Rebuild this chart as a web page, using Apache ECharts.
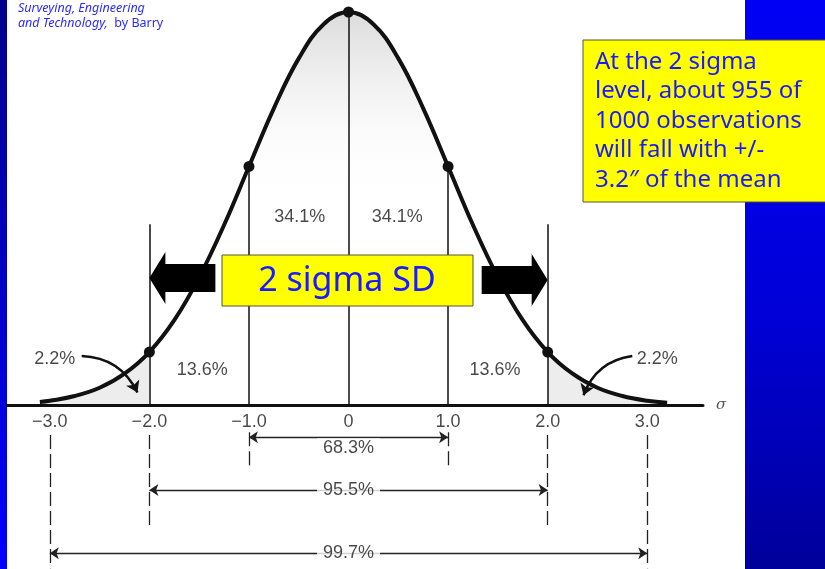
<!DOCTYPE html>
<html>
<head>
<meta charset="utf-8">
<script src="https://cdn.jsdelivr.net/npm/echarts@6/dist/echarts.min.js"></script>
<style>
  html, body { margin: 0; padding: 0; background: #fff; }
  #chart { width: 825px; height: 569px; }
</style>
</head>
<body>
<div id="chart"></div>
<script>
// curve: position in sigma -> relative height (peak = 1)
var curveX = [-3.1, -3.0, -2.75, -2.5, -2.25, -2.0, -1.75, -1.5, -1.25, -1.0, -0.75, -0.5, -0.25, 0,
  0.25, 0.5, 0.75, 1.0, 1.25, 1.5, 1.75, 2.0, 2.25, 2.5, 2.75, 3.0, 3.2]
var curveY = [0.008, 0.011, 0.023, 0.044, 0.080, 0.135, 0.216, 0.325, 0.458, 0.607, 0.755, 0.882, 0.969, 1.0,
  0.969, 0.882, 0.755, 0.607, 0.458, 0.325, 0.216, 0.135, 0.080, 0.044, 0.023, 0.011, 0.006]
// points marked on the curve
var dotSigma = [-2, -1, 0, 1, 2]
// sigma axis ticks
var tickValues = [-3, -2, -1, 0, 1, 2, 3]
var tickLabels = ['\u22123.0', '\u22122.0', '\u22121.0', '0', '1.0', '2.0', '3.0']
// share of each band, left to right
var bandPercent = ['2.2%', '13.6%', '34.1%', '34.1%', '13.6%', '2.2%']
// coverage within +/- k sigma
var coverSigma = [1, 2, 3]
var coverPercent = ['68.3%', '95.5%', '99.7%']

// layout (data units of the grid), not data
var bandLabelPos = [[-2.95, 0.117], [-1.47, 0.089], [-0.49, 0.478], [0.49, 0.478], [1.47, 0.089], [3.1, 0.117]]
var tickLabelY = -0.042
var coverArrowY = [-0.082, -0.216, -0.377]
var coverTextY = [-0.110, -0.216, -0.377]
var coverTop = [-0.069, -0.076, -0.076]
var coverBottom = [-0.160, -0.305, -0.415]
var twoSigmaTop = 0.46

var FONT = 'Liberation Sans, Arial, sans-serif'
var COMIC = '"Comic Sans MS", "Noto Sans", sans-serif'

function heightAt (x) {
  return curveY[curveX.indexOf(x)]
}

var curveData = curveX.map(function (x, i) { return [x, curveY[i]] })
var tailLeft = curveData.filter(function (p) { return p[0] <= -2 })
var tailRight = curveData.filter(function (p) { return p[0] >= 2 })

// vertical lines from the axis up to the curve
var dropLines = dotSigma.map(function (x) {
  var top = Math.abs(x) === 2 ? twoSigmaTop : heightAt(x)
  return [{ coord: [x, 0] }, { coord: [x, top] }]
})

var coverArrows = []
var coverTicks = []
coverSigma.forEach(function (k, i) {
  coverArrows.push([{ coord: [-k, coverArrowY[i]] }, { coord: [k, coverArrowY[i]] }])
  coverTicks.push([{ coord: [-k, coverTop[i]] }, { coord: [-k, coverBottom[i]] }])
  coverTicks.push([{ coord: [k, coverTop[i]] }, { coord: [k, coverBottom[i]] }])
})

// curved pointers from the 2.2% labels to the tails
function tailArrow (from, to, curveness) {
  return {
    type: 'lines',
    coordinateSystem: 'cartesian2d',
    silent: true,
    symbol: ['none', 'arrow'],
    symbolSize: 11,
    lineStyle: { color: '#111', width: 2.5, opacity: 1, curveness: curveness },
    data: [{ coords: [from, to] }],
    z: 4
  }
}

var chart = echarts.init(document.getElementById('chart'))

var option = {
  animation: false,
  backgroundColor: '#fff',
  grid: { left: 7, right: 122, top: 12, bottom: 0, containLabel: false, outerBoundsMode: 'none' },
  xAxis: {
    type: 'value',
    min: -3.43,
    max: 3.56,
    name: '\u03c3',
    nameLocation: 'end',
    nameGap: 13,
    nameTextStyle: { fontFamily: 'DejaVu Serif, serif', fontStyle: 'italic', fontSize: 15, color: '#555', padding: [6, 0, 0, 0] },
    splitLine: { show: false },
    axisTick: { show: false },
    axisLabel: { show: false },
    axisLine: { onZero: true, lineStyle: { color: '#111', width: 3 } }
  },
  yAxis: { type: 'value', show: false, min: -0.417, max: 1 },
  series: [
    {
      type: 'line',
      data: tailLeft,
      smooth: 0.4,
      symbol: 'none',
      lineStyle: { width: 0 },
      areaStyle: { color: 'rgba(0,0,0,0.1)' },
      z: 1
    },
    {
      type: 'line',
      data: tailRight,
      smooth: 0.4,
      symbol: 'none',
      lineStyle: { width: 0 },
      areaStyle: { color: 'rgba(0,0,0,0.1)' },
      z: 1
    },
    {
      name: 'curve',
      type: 'line',
      data: curveData,
      smooth: 0.4,
      symbol: 'none',
      clip: false,
      lineStyle: { color: '#111', width: 4 },
      areaStyle: {
        color: new echarts.graphic.LinearGradient(0, 0, 0, 1, [
          { offset: 0, color: 'rgba(110,110,110,0.35)' },
          { offset: 0.28, color: 'rgba(150,150,150,0.08)' },
          { offset: 0.5, color: 'rgba(255,255,255,0)' }
        ])
      },
      z: 3
    },
    {
      name: 'dots',
      type: 'scatter',
      data: dotSigma.map(function (x) { return [x, heightAt(x)] }),
      symbolSize: 11,
      clip: false,
      itemStyle: { color: '#111', opacity: 1 },
      markLine: {
        silent: true,
        symbol: 'none',
        label: { show: false },
        lineStyle: { color: '#111', width: 1.5, type: 'solid' },
        data: dropLines
      },
      z: 4
    },
    tailArrow([-2.68, 0.125], [-2.12, 0.032], 0.3),
    tailArrow([2.85, 0.125], [2.36, 0.025], -0.3),
    {
      type: 'scatter',
      data: [],
      markLine: {
        silent: true,
        symbol: 'none',
        label: { show: false },
        lineStyle: { color: '#222', width: 1.3, type: [14, 5] },
        data: coverTicks
      },
      z: 4
    },
    {
      type: 'scatter',
      data: [],
      markLine: {
        silent: true,
        symbol: ['arrow', 'arrow'],
        symbolSize: [9, 9],
        label: { show: false },
        lineStyle: { color: '#222', width: 1.4, type: 'solid' },
        data: coverArrows
      },
      z: 4
    },
    {
      name: 'ticks',
      type: 'scatter',
      symbolSize: 0,
      data: tickValues.map(function (v, i) { return { value: [v, tickLabelY], name: tickLabels[i] } }),
      label: {
        show: true, position: 'inside', formatter: '{b}',
        fontFamily: FONT, fontSize: 18, color: '#1a1a1a'
      },
      z: 6
    },
    {
      name: 'bandLabels',
      type: 'scatter',
      symbolSize: 0,
      data: bandPercent.map(function (t, i) { return { value: bandLabelPos[i], name: t } }),
      label: {
        show: true, position: 'inside', formatter: '{b}',
        fontFamily: FONT, fontSize: 18, color: '#1a1a1a'
      },
      z: 6
    },
    {
      name: 'coverLabels',
      type: 'scatter',
      symbolSize: 0,
      data: coverPercent.map(function (t, i) { return { value: [0, coverTextY[i]], name: t } }),
      label: {
        show: true, position: 'inside', formatter: '{b}',
        fontFamily: FONT, fontSize: 18, color: '#1a1a1a',
        backgroundColor: '#fff', padding: [1, 6]
      },
      z: 6
    }
  ]
}
chart.setOption(option)

// decorations: slide strips, title, yellow boxes, the big 2 sigma arrows
function blockArrow (tip, dir) {
  var pts = [[0, 0], [16, -26], [16, -14], [66, -14], [66, 14], [16, 14], [16, 26]]
  return pts.map(function (p) { return [tip[0] + dir * p[0], tip[1] + p[1]] })
}
var tipL = chart.convertToPixel({ gridIndex: 0 }, [-2, 0.323])
var tipR = chart.convertToPixel({ gridIndex: 0 }, [2, 0.318])

chart.setOption({
  graphic: [
    {
      type: 'rect', z: -10, silent: true,
      shape: { x: 0, y: 0, width: 7, height: 569 },
      style: { fill: new echarts.graphic.LinearGradient(0, 0, 0, 1, [
        { offset: 0, color: '#00008a' }, { offset: 1, color: '#0000ff' }]) }
    },
    {
      type: 'rect', z: -10, silent: true,
      shape: { x: 745, y: 0, width: 80, height: 569 },
      style: { fill: new echarts.graphic.LinearGradient(0, 0, 0, 1, [
        { offset: 0, color: '#0000f5' }, { offset: 0.55, color: '#0000d8' }, { offset: 1, color: '#00009a' }]) }
    },
    {
      type: 'text', z: 10, silent: true, left: 18, top: 2,
      style: {
        text: '{i|Surveying, Engineering}\n{i|and Technology,}  {n|by Barry}',
        fill: '#2b2bff',
        rich: {
          i: { fontFamily: COMIC, fontStyle: 'italic', fontSize: 12.5, lineHeight: 14.5, fill: '#2b2bff' },
          n: { fontFamily: COMIC, fontSize: 12.5, lineHeight: 14.5, fill: '#2b2bff' }
        }
      }
    },
    {
      type: 'polygon', z: 20, silent: true,
      shape: { points: blockArrow(tipL, 1) },
      style: { fill: '#000' }
    },
    {
      type: 'polygon', z: 20, silent: true,
      shape: { points: blockArrow(tipR, -1) },
      style: { fill: '#000' }
    },
    {
      type: 'rect', z: 20, silent: true,
      shape: { x: 222, y: 255, width: 251, height: 51 },
      style: { fill: '#ffff00', stroke: '#55553a', lineWidth: 1 }
    },
    {
      type: 'text', z: 21, silent: true, x: 347, y: 281,
      style: {
        text: '2 sigma SD', fontFamily: COMIC, fontSize: 34, fill: '#1a1aff',
        align: 'center', verticalAlign: 'middle'
      }
    },
    {
      type: 'rect', z: 20, silent: true,
      shape: { x: 583, y: 40, width: 250, height: 162 },
      style: { fill: '#ffff00', stroke: '#55553a', lineWidth: 1 }
    },
    {
      type: 'text', z: 21, silent: true, x: 595, y: 47,
      style: {
        text: 'At the 2 sigma\nlevel, about 955 of\n1000 observations\nwill fall with +/-\n3.2\u2033 of the mean',
        fontFamily: COMIC, fontSize: 24, lineHeight: 29.5, fill: '#1a1aff',
        align: 'left', verticalAlign: 'top'
      }
    }
  ]
})
</script>
</body>
</html>
